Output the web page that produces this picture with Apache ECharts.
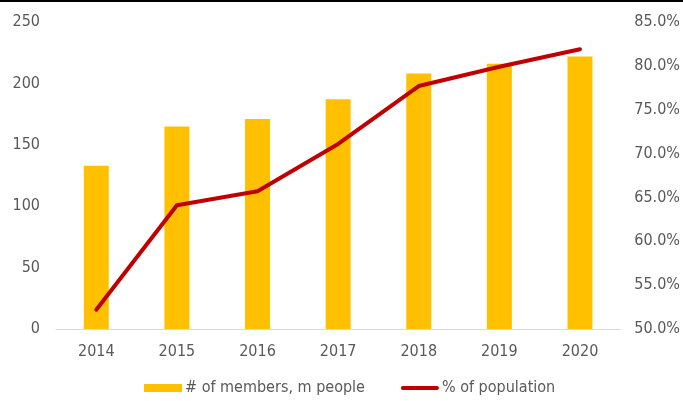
<!DOCTYPE html>
<html>
<head>
<meta charset="utf-8">
<script src="https://cdn.jsdelivr.net/npm/echarts@6/dist/echarts.min.js"></script>
<style>
  html, body { margin: 0; padding: 0; background: #fff; }
  #chart { width: 683px; height: 401px; }
</style>
</head>
<body>
<div id="chart"></div>
<script>
// Membership and population share by year
const years = ['2014', '2015', '2016', '2017', '2018', '2019', '2020'];
const members = [133, 165, 171, 187, 208, 216, 222];          // m people
const populationShare = [52.2, 64.1, 65.7, 71.1, 77.7, 79.9, 81.9]; // %

const membersName = '# of members, m people';
const shareName = '% of population';

const labelFont = {
  color: '#595959',
  fontFamily: 'DejaVu Sans Condensed',
  fontSize: 16
};

const chart = echarts.init(document.getElementById('chart'), null, { renderer: 'canvas' });
chart.setOption({
  animation: false,
  backgroundColor: '#ffffff',
  graphic: [{
    type: 'rect',
    left: 0, top: 0,
    shape: { width: 683, height: 2 },
    style: { fill: '#000000' }
  }],
  grid: { left: 56, right: 61, top: 22, bottom: 72 },
  legend: {
    left: 139,
    top: 375,
    itemWidth: 38,
    itemHeight: 8,
    itemGap: 36,
    textStyle: Object.assign({}, labelFont, { padding: [0, 0, 0, -2] }),
    data: [
      { name: membersName, icon: 'rect' },
      { name: shareName, icon: 'path://M2,0 H38 A2,2 0 0 1 38,4 H2 A2,2 0 0 1 2,0 Z' }
    ]
  },
  xAxis: {
    type: 'category',
    data: years,
    boundaryGap: true,
    axisLine: { lineStyle: { color: '#D9D9D9', width: 1 } },
    axisTick: { show: false },
    axisLabel: Object.assign({ margin: 15 }, labelFont)
  },
  yAxis: [{
    type: 'value',
    min: 0, max: 250, interval: 50,
    axisLine: { show: false },
    axisTick: { show: false },
    splitLine: { show: false },
    axisLabel: Object.assign({ margin: 16 }, labelFont)
  }, {
    type: 'value',
    min: 50, max: 85, interval: 5,
    axisLine: { show: false },
    axisTick: { show: false },
    splitLine: { show: false },
    axisLabel: Object.assign({
      margin: 14,
      formatter: v => v.toFixed(1) + '%'
    }, labelFont)
  }],
  series: [{
    name: membersName,
    type: 'bar',
    data: members,
    barWidth: '31%',
    itemStyle: { color: '#FFC000' }
  }, {
    name: shareName,
    type: 'line',
    yAxisIndex: 1,
    data: populationShare,
    showSymbol: false,
    symbol: 'none',
    lineStyle: { color: '#C00000', width: 4, cap: 'round', join: 'round' },
    itemStyle: { color: '#C00000' }
  }]
});
</script>
</body>
</html>
